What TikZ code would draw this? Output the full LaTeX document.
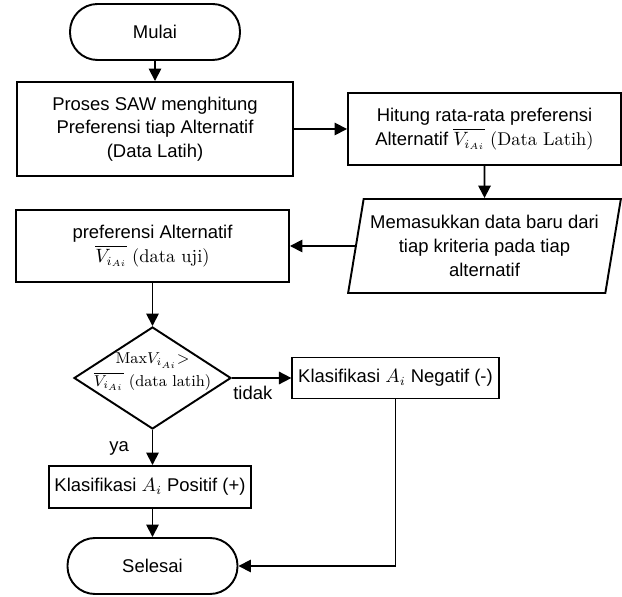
\documentclass[tikz,border=0pt]{standalone}
\usepackage{fontspec}
\setsansfont{Liberation Sans}
\usetikzlibrary{positioning,shapes.geometric,arrows.meta}

\begin{document}
\begin{tikzpicture}[
  font=\sffamily\fontsize{10.5}{13.5}\selectfont,
  proc/.style={draw, line width=1.1pt, align=center, minimum width=5.46cm, minimum height=1.44cm},
  terminal/.style={draw, line width=1.1pt, rounded corners=0.55cm, minimum width=3.4cm, minimum height=1.12cm},
  io/.style={draw, line width=1.1pt, align=center, trapezium, trapezium left angle=78, trapezium right angle=102, trapezium stretches=true, minimum width=5.46cm, minimum height=1.88cm},
  decision/.style={draw, line width=1.1pt, diamond, minimum width=3.14cm, minimum height=2.04cm, inner sep=0pt},
  arrow/.style={line width=1pt, -{Triangle[length=2.5mm,width=2.5mm]}}
]
\useasboundingbox (0,0) rectangle (12.44,11.92);

\node[terminal] (mulai) at (3.1, 11.28) {Mulai};
\node[proc, minimum width=5.52cm, minimum height=1.88cm] (proses) at (3.1, 9.34) {Proses SAW menghitung\\Preferensi tiap Alternatif\\(Data Latih)};
\node[proc] (hitung) at (9.69, 9.34) {Hitung rata-rata preferensi\\Alternatif $\overline{V_{i_{Ai}}}$ \textrm{(Data Latih)}};
\node[io] (input) at (9.69, 7) {Memasukkan data baru dari\\tiap kriteria pada tiap\\alternatif};
\node[proc] (pref) at (3.05, 7) {preferensi Alternatif\\$\overline{V_{i_{Ai}}}$ \textrm{(data uji)}};
\node[decision] (cek) at (3.05, 4.36) {};
\node[align=center, yshift=1.2mm, font=\rmfamily\fontsize{9}{13}\selectfont] (cektext) at (cek) {Max$V_{i_{Ai}}$>\\$\overline{V_{i_{Ai}}}$ (data latih)};
\node[proc, minimum width=3.86cm, minimum height=0.82cm] (neg) at (7.91, 4.36) {Klasifikasi $A_i$ Negatif (-)};
\node[proc, minimum width=3.9cm, minimum height=0.84cm] (pos) at (3.0, 2.18) {Klasifikasi $A_i$ Positif (+)};
\node[terminal] (selesai) at (3.05, 0.6) {Selesai};
\node[below right=0.15cm and 0.02cm of cek.east, inner sep=0pt] (tidak) {tidak};
\node[below left=0.1cm and 0.35cm of cek.south] (ya) {ya};

\draw[arrow] (mulai) -- (proses);
\draw[arrow] (proses) -- (hitung);
\draw[arrow] (hitung) -- (input);
\draw[arrow] (input) -- (pref);
\draw[arrow] (pref) -- (cek);
\draw[arrow] (cek) -- (neg);
\draw[arrow] (cek) -- (cek |- pos.north);
\draw[arrow] (selesai |- pos.south) -- (selesai);
\draw[arrow] (neg) |- (selesai);
\end{tikzpicture}
\end{document}
